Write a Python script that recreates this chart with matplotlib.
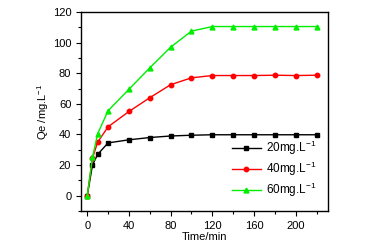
import matplotlib
matplotlib.use('Agg')
import matplotlib.pyplot as plt
from matplotlib.ticker import MultipleLocator

plt.rcParams['font.family'] = ['Liberation Sans', 'DejaVu Sans']
plt.rcParams['mathtext.default'] = 'regular'

time = [0, 5, 10, 20, 40, 60, 80, 100, 120, 140, 160, 180, 200, 220]
qe_20 = [0, 20, 27, 34.5, 36.5, 38, 39, 39.5, 39.8, 39.8, 39.8, 39.8, 39.8, 39.8]
qe_40 = [0, 24.5, 35, 45, 55, 64, 72.5, 77, 78.5, 78.5, 78.5, 78.7, 78.5, 78.7]
qe_60 = [0, 25, 40.5, 55.5, 69.5, 83.5, 97, 107.5, 110.5, 110.5, 110.5, 110.5, 110.5, 110.5]
labels = ['20mg.L$^{-1}$', '40mg.L$^{-1}$', '60mg.L$^{-1}$']

fig = plt.figure(figsize=(3.8, 2.45), dpi=100)
ax = fig.add_axes([81 / 380, 1 - 211 / 245, 247 / 380, 199 / 245])

ax.plot(time, qe_20, color='black', marker='s', markersize=3, lw=1, label=labels[0])
ax.plot(time, qe_40, color='red', marker='o', markersize=3.2, lw=1, label=labels[1])
ax.plot(time, qe_60, color='#00ee00', marker='^', markersize=3.5, lw=1, label=labels[2])

ax.set_xlim(-6, 231)
ax.set_ylim(-10, 120)
ax.xaxis.set_major_locator(MultipleLocator(40))
ax.xaxis.set_minor_locator(MultipleLocator(20))
ax.yaxis.set_major_locator(MultipleLocator(20))
ax.yaxis.set_minor_locator(MultipleLocator(10))
ax.tick_params(which='both', direction='out', labelsize=8, width=0.8, top=False, right=False)
ax.tick_params(which='major', length=3.5)
ax.tick_params(which='minor', length=2)
for s in ax.spines.values():
    s.set_linewidth(1.0)

ax.set_xlabel('Time/min', fontsize=8, labelpad=1)
ax.set_ylabel('Qe /mg.L$^{-1}$', fontsize=8, labelpad=1)
ax.legend(loc='lower right', frameon=False, fontsize=8.5, handlelength=2.5,
          handletextpad=0.4, labelspacing=0.25, borderaxespad=0.6)

fig.savefig('out.png', dpi=100)
